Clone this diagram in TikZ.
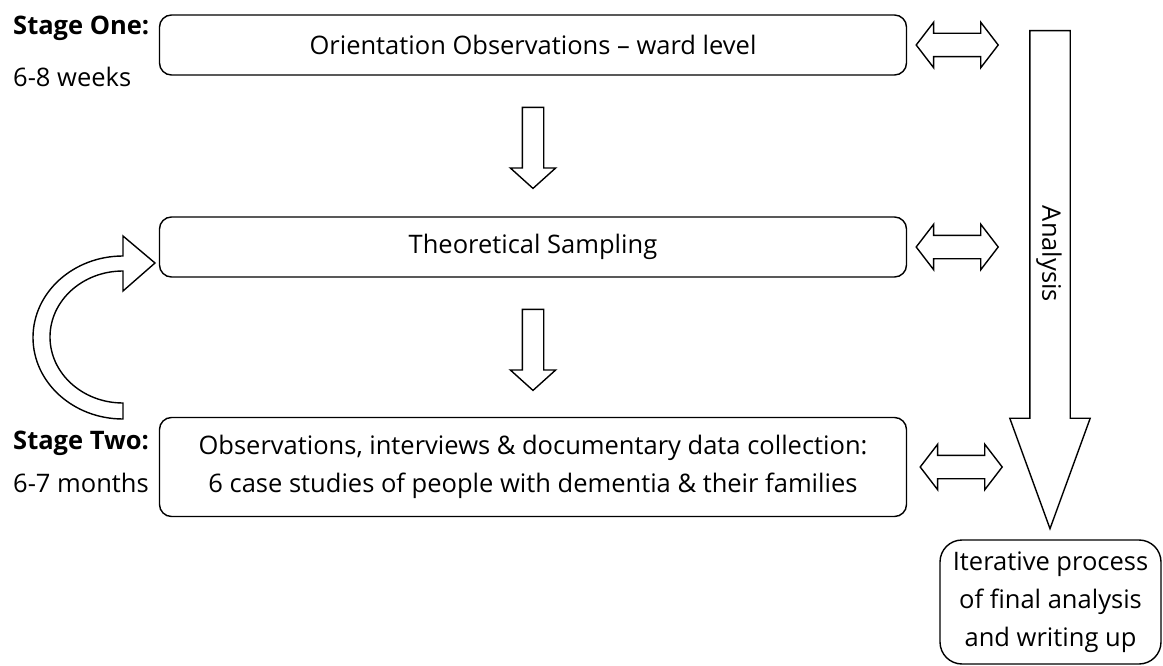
\documentclass[tikz,border=0pt]{standalone}
\usepackage{fontspec}
\setmainfont{Open Sans}
\usetikzlibrary{shapes.arrows,calc}
\tikzset{
  stagebox/.style={draw, line width=1.4, rounded corners=12, minimum width=747, minimum height=60, align=center},
  downarrow/.style={single arrow, draw, line width=1.4, rotate=270, inner sep=0, text height=20, text depth=0,
    single arrow head extend=12, single arrow tip angle=96, minimum height=81},
  twoway/.style={double arrow, draw, line width=1.4, inner sep=0, text height=22, text depth=0,
    double arrow head extend=11, double arrow tip angle=105, minimum height=82},
  stagelabel/.style={anchor=base west, inner sep=0}
}
\begin{document}
\begin{tikzpicture}[x=1pt, y=-1pt, font=\fontsize{25.5}{38}\selectfont]
\useasboundingbox (0,0) rectangle (1163,666);

% stages
\node[stagebox] (orient) at (533,45) {Orientation Observations -- ward level};
\node[stagebox] (sampling) at (533,247) {Theoretical Sampling};
\node[stagebox, minimum height=99] (collect) at (533,467)
  {Observations, interviews \& documentary data collection:\\6 case studies of people with dementia \& their families};

\node[stagelabel] (one) at (13,35) {\bfseries Stage One:};
\node[stagelabel] (oneweeks) at (13,87) {6-8 weeks};
\node[stagelabel] (two) at (13,449) {\bfseries Stage Two:};
\node[stagelabel] (twomonths) at (13,492) {6-7 months};

% arrows between stages
\node[downarrow, anchor=tail] (down1) at ([yshift=-31pt]orient.south) {};
\node[downarrow, anchor=tail] (down2) at ([yshift=-31pt]sampling.south) {};

\node[twoway] (link1) at ([xshift=50pt]orient.east) {};
\node[twoway] (link2) at ([xshift=50pt]sampling.east) {};
\node[twoway] (link3) at ([xshift=54pt]collect.east) {};

% loop back
\draw[line width=1.4, line join=miter] (123,419) arc[start angle=90, end angle=270, x radius=90, y radius=81.5]
  -- (123,236) -- (155,263) -- (123,291) -- (123,271)
  arc[start angle=270, end angle=90, x radius=73, y radius=66] -- cycle;

% analysis
\node[single arrow, draw, line width=1.4, rotate=270, anchor=tail, inner sep=0, text height=39, text depth=0,
  single arrow head extend=20, single arrow tip angle=40, minimum height=498] (analysis) at (1050,30) {};
\node[rotate=-90] (analysislabel) at (1049,254) {Analysis};
\node[draw, line width=1.4, rounded corners=22, minimum width=221, minimum height=124, align=center] (final)
  at (1050.5,602) {Iterative process\\of final analysis\\and writing up};
\end{tikzpicture}
\end{document}
